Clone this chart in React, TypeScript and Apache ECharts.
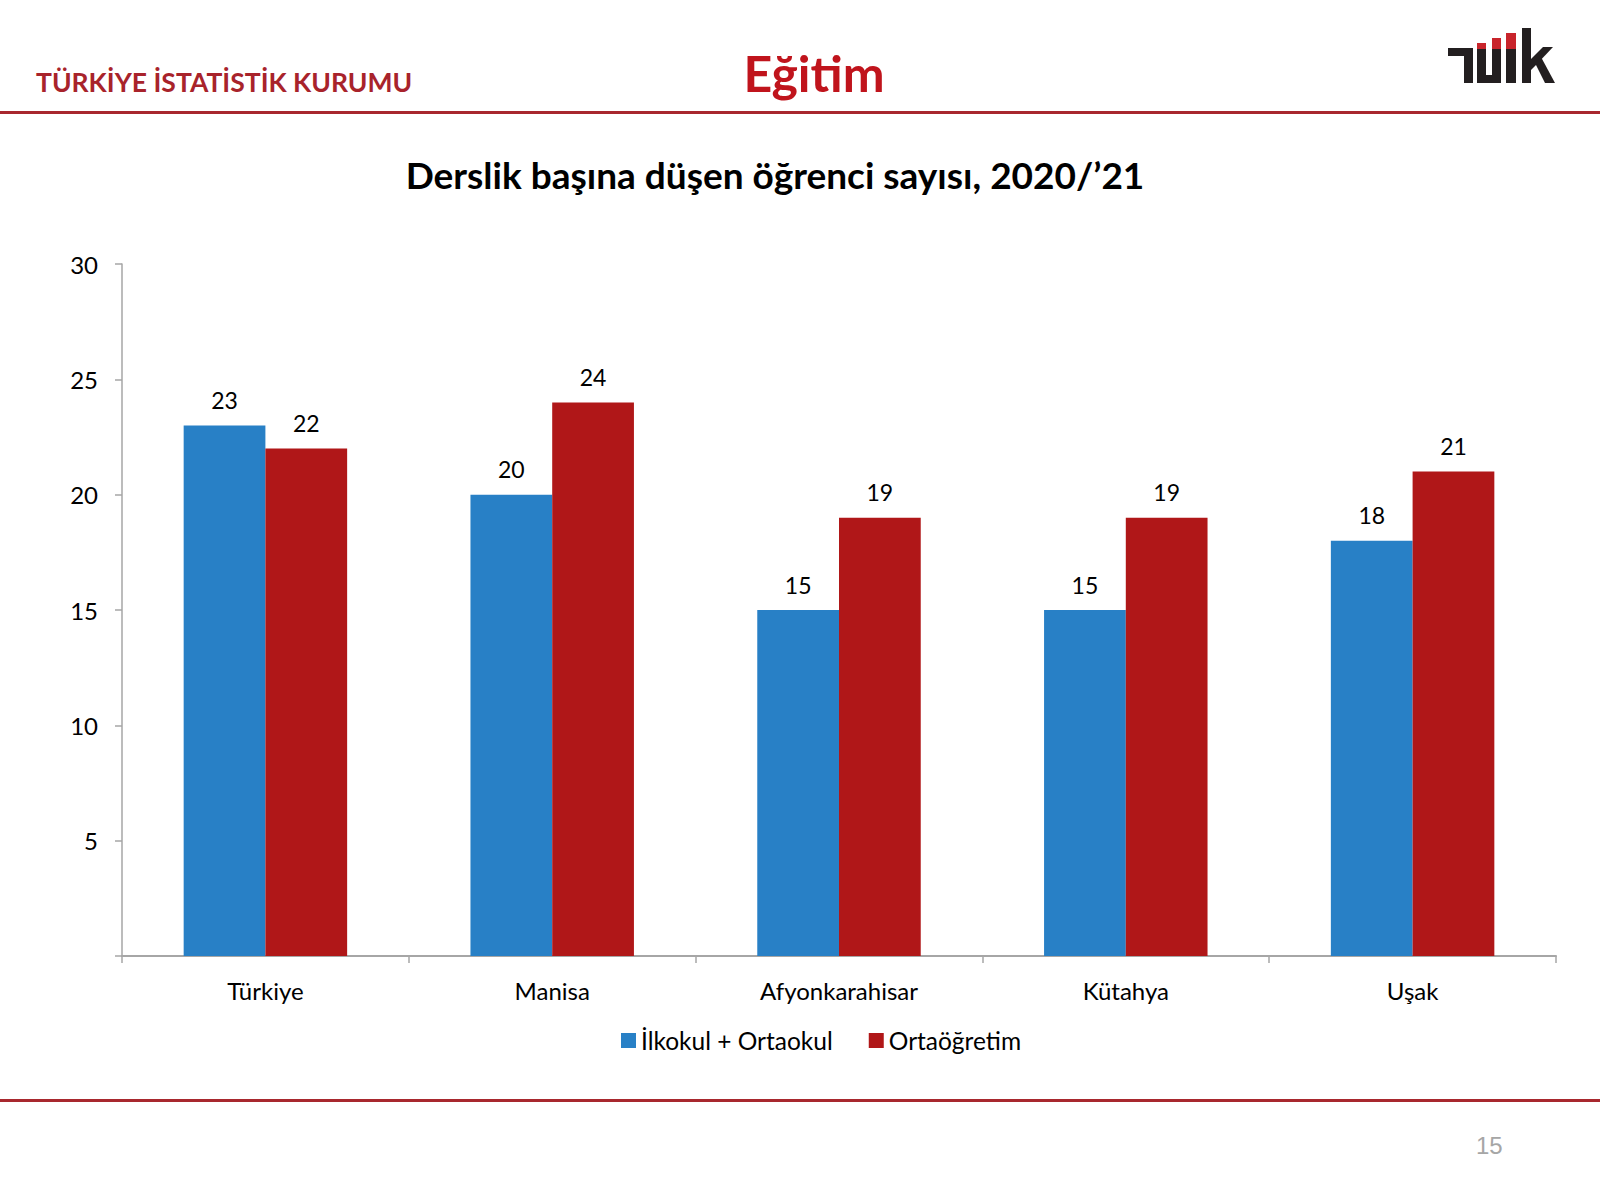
import React, { useEffect, useRef } from "react";
import * as echarts from "echarts";

const categories = ["Türkiye", "Manisa", "Afyonkarahisar", "Kütahya", "Uşak"];
const primaryValues = [23, 20, 15, 15, 18];
const secondaryValues = [22, 24, 19, 19, 21];
const seriesNames = ["İlkokul + Ortaokul", "Ortaöğretim"];
const yTicks = { min: 0, max: 30, interval: 5 };

const FONT = "Lato, 'Open Sans', sans-serif";

export default function App() {
  const ref = useRef<HTMLDivElement>(null);
  useEffect(() => {
    if (!ref.current) return;
    const chart = echarts.init(ref.current, undefined, { renderer: "svg" });
    const logoBlack = "#231f20";
    const logoRed = "#c8242b";
    const labelStyle = { show: true, position: "top", fontSize: 23, color: "#000", distance: 14, fontFamily: FONT };
    chart.setOption({
      animation: false,
      backgroundColor: "#ffffff",
      textStyle: { fontFamily: FONT },
      grid: { left: 122, right: 44, top: 264, bottom: 244, containLabel: false },
      legend: {
        left: 616,
        top: 1023,
        itemWidth: 15,
        itemHeight: 15,
        itemGap: 36,
        icon: "rect",
        textStyle: { fontSize: 24.5, color: "#000", fontFamily: FONT, padding: [0, 0, 0, 0] },
        data: seriesNames,
      },
      xAxis: {
        type: "category",
        data: categories,
        axisLine: { lineStyle: { color: "#a6a6a6", width: 2 } },
        axisTick: { show: true, length: 7, lineStyle: { color: "#a6a6a6", width: 1.5 } },
        axisLabel: { fontSize: 24, color: "#000", margin: 22, fontFamily: FONT },
      },
      yAxis: {
        type: "value",
        min: yTicks.min,
        max: yTicks.max,
        interval: yTicks.interval,
        splitLine: { show: false },
        axisLine: { show: true, lineStyle: { color: "#a6a6a6", width: 1.5 } },
        axisTick: { show: true, length: 7, lineStyle: { color: "#a6a6a6", width: 1.5 } },
        axisLabel: {
          fontSize: 24,
          color: "#000",
          margin: 24,
          fontFamily: FONT,
          formatter: (v: number) => (v === 0 ? "" : String(v)),
        },
      },
      series: [
        {
          name: seriesNames[0],
          type: "bar",
          data: primaryValues,
          barGap: "0%",
          barCategoryGap: "43%",
          itemStyle: { color: "#2880c6" },
          label: labelStyle,
        },
        {
          name: seriesNames[1],
          type: "bar",
          data: secondaryValues,
          barGap: "0%",
          barCategoryGap: "43%",
          itemStyle: { color: "#b01718" },
          label: labelStyle,
        },
      ],
      graphic: [
        {
          type: "text",
          x: 36,
          y: 82,
          style: {
            text: "TÜRKİYE İSTATİSTİK KURUMU",
            font: `bold 26.5px ${FONT}`,
            fill: "#a8232b",
            textVerticalAlign: "middle",
          },
        },
        {
          type: "text",
          x: 814,
          y: 73,
          style: {
            text: "Eğitim",
            font: `bold 50px ${FONT}`,
            fill: "#c0141c",
            textAlign: "center",
            textVerticalAlign: "middle",
          },
        },
        {
          type: "rect",
          shape: { x: 0, y: 111, width: 1600, height: 3 },
          style: { fill: "#a8282e" },
        },
        {
          type: "rect",
          shape: { x: 0, y: 1099, width: 1600, height: 3 },
          style: { fill: "#a8282e" },
        },
        {
          type: "text",
          x: 775,
          y: 174,
          style: {
            text: "Derslik başına düşen öğrenci sayısı, 2020/’21",
            font: `bold 37px ${FONT}`,
            fill: "#000",
            textAlign: "center",
            textVerticalAlign: "middle",
          },
        },
        {
          type: "text",
          left: 1476,
          top: 1133,
          style: { text: "15", font: `24px Arial, 'Liberation Sans', sans-serif`, fill: "#a6a6a6" },
        },
        // logo
        { type: "rect", shape: { x: 1448, y: 48, width: 25, height: 8 }, style: { fill: logoBlack } },
        { type: "rect", shape: { x: 1464, y: 48, width: 9, height: 35 }, style: { fill: logoBlack } },
        { type: "rect", shape: { x: 1477, y: 49, width: 9, height: 34 }, style: { fill: logoBlack } },
        { type: "rect", shape: { x: 1477, y: 43, width: 9, height: 6 }, style: { fill: logoRed } },
        { type: "rect", shape: { x: 1492, y: 49, width: 9, height: 34 }, style: { fill: logoBlack } },
        { type: "rect", shape: { x: 1492, y: 38, width: 9, height: 11 }, style: { fill: logoRed } },
        { type: "rect", shape: { x: 1477, y: 75, width: 24, height: 8 }, style: { fill: logoBlack } },
        { type: "rect", shape: { x: 1506, y: 49, width: 10, height: 34 }, style: { fill: logoBlack } },
        { type: "rect", shape: { x: 1506, y: 33, width: 10, height: 16 }, style: { fill: logoRed } },
        { type: "rect", shape: { x: 1522, y: 28, width: 9, height: 55 }, style: { fill: logoBlack } },
        {
          type: "polygon",
          shape: { points: [[1531, 59], [1543, 47], [1553, 47], [1537, 64], [1531, 70]] },
          style: { fill: logoBlack },
        },
        {
          type: "polygon",
          shape: { points: [[1535, 63], [1541, 57], [1555, 83], [1545, 83]] },
          style: { fill: logoBlack },
        },
      ],
    });
    return () => chart.dispose();
  }, []);
  return (
    <div
      ref={ref}
      style={{ position: "fixed", left: 0, top: 0, width: 1600, height: 1200, background: "#fff" }}
    />
  );
}
